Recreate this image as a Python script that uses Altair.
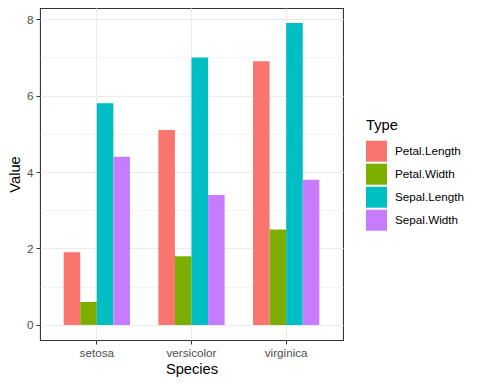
import altair as alt
import pandas as pd

species = ["setosa", "versicolor", "virginica"]
types = ["Petal.Length", "Petal.Width", "Sepal.Length", "Sepal.Width"]
petal_length = [1.9, 5.1, 6.9]
petal_width = [0.6, 1.8, 2.5]
sepal_length = [5.8, 7.0, 7.9]
sepal_width = [4.4, 3.4, 3.8]
colors = ["#F8766D", "#7CAE00", "#00BFC4", "#C77CFF"]
y_ticks = [0, 1, 2, 3, 4, 5, 6, 7, 8]

series = [petal_length, petal_width, sepal_length, sepal_width]
rows = []
for t, vals in zip(types, series):
    for s, v in zip(species, vals):
        rows.append({"Species": s, "Type": t, "Value": v})
df = pd.DataFrame(rows)

FONT = "Liberation Sans"

chart = alt.Chart(df).mark_bar(clip=True).encode(
    x=alt.X(
        "Species:N",
        sort=species,
        scale=alt.Scale(paddingInner=0.3, paddingOuter=0.25),
        axis=alt.Axis(
            title="Species", labelAngle=0, grid=True, gridColor="#EBEBEB",
            gridWidth=1.07, domain=False, tickColor="#333333", tickSize=4,
            tickWidth=1, labelColor="#4D4D4D", labelFontSize=11.7,
            labelPadding=3, titleFontSize=14.7, titleColor="#000000",
            titleFontWeight="normal", titlePadding=3, labelFont=FONT,
            titleFont=FONT,
        ),
    ),
    xOffset=alt.XOffset("Type:N", sort=types,
                        scale=alt.Scale(paddingInner=0, paddingOuter=0)),
    y=alt.Y(
        "Value:Q",
        scale=alt.Scale(domain=[-0.395, 8.295], nice=False, zero=False),
        axis=alt.Axis(
            title="Value", values=y_ticks, grid=True, gridColor="#EBEBEB",
            gridWidth={"condition": {"test": "datum.value % 2 === 1", "value": 0.55}, "value": 1.07},
            tickSize={"condition": {"test": "datum.value % 2 === 1", "value": 0}, "value": 4},
            labelExpr="datum.value % 2 === 1 ? '' : datum.label",
            domain=False, tickColor="#333333", tickWidth=1,
            labelColor="#4D4D4D", labelFontSize=11.7, labelPadding=3,
            titleFontSize=14.7, titleColor="#000000", titleFontWeight="normal",
            titlePadding=4, labelFont=FONT, titleFont=FONT,
        ),
    ),
    y2=alt.datum(0),
    color=alt.Color(
        "Type:N", sort=types,
        scale=alt.Scale(domain=types, range=colors),
        legend=alt.Legend(
            title="Type", orient="none", legendX=326, legendY=110,
            symbolType="square", symbolSize=441, symbolStrokeWidth=0,
            symbolOpacity=1, rowPadding=2, labelOffset=8,
            labelFontSize=11.7, labelColor="#000000", labelFont=FONT,
            titleFontSize=14.7, titleFontWeight="normal", titleColor="#000000",
            titleFont=FONT, titlePadding=8,
        ),
    ),
).properties(
    width=303, height=332,
    autosize=alt.AutoSizeParams(type="none"),
    padding={"left": 32, "top": 0, "right": 129, "bottom": 40},
).configure_view(
    stroke="#333333", strokeWidth=1.07
).configure_axis(
    gridCap="butt"
)

chart.save("out.html", embed_options={"renderer": "svg", "actions": False})
